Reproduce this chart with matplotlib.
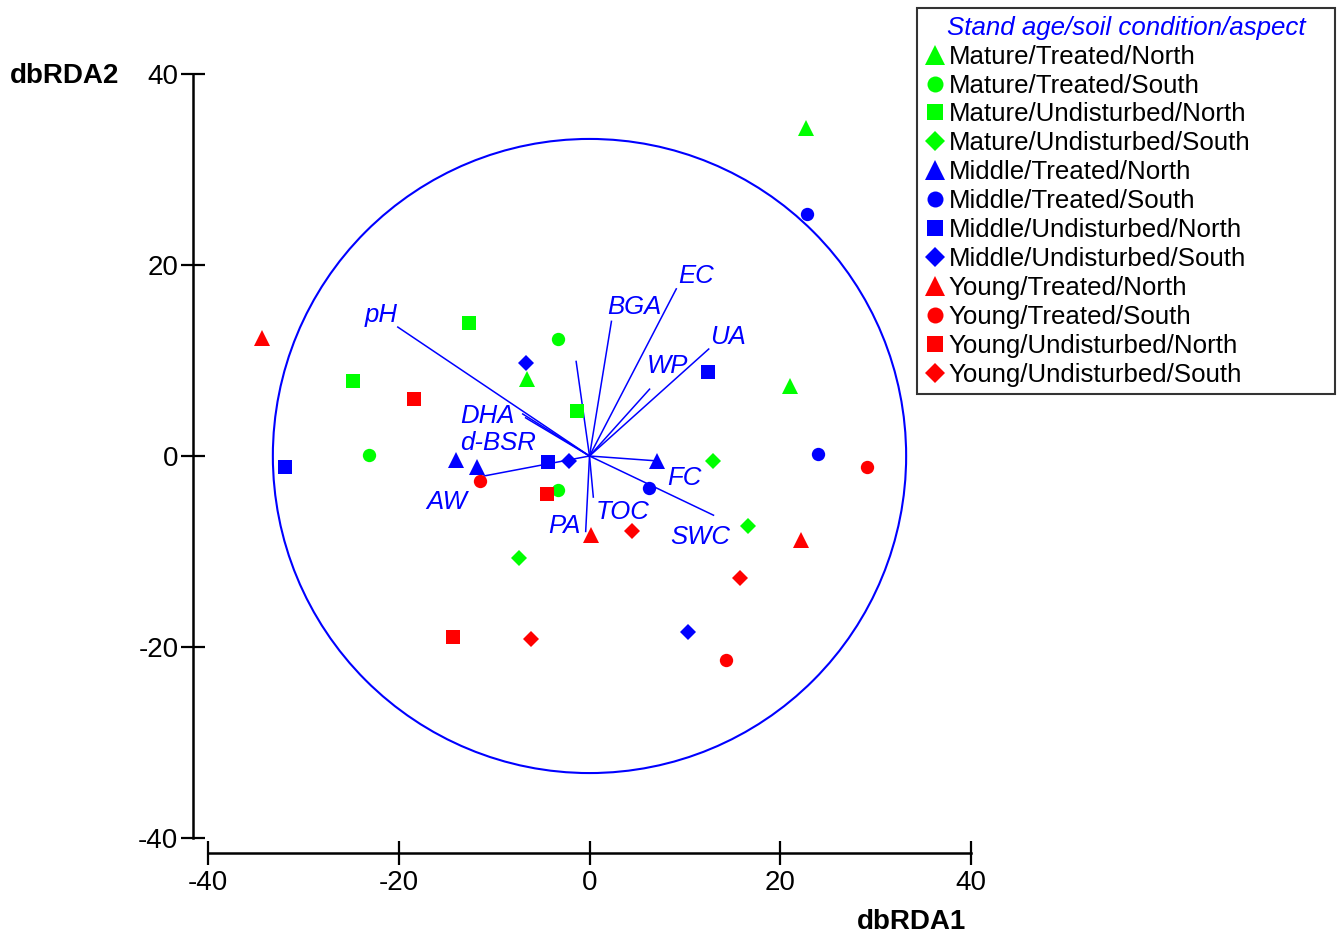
import matplotlib.pyplot as plt
from matplotlib.lines import Line2D
from matplotlib.patches import Circle

plt.rcParams['font.family'] = ['Liberation Sans', 'DejaVu Sans']
plt.rcParams['axes.unicode_minus'] = False

# Classes de idade e condicao/aspecto (3 amostras cada)
idades = ['Mature', 'Middle', 'Young']
condicoes = ['Treated/North', 'Treated/South', 'Undisturbed/North', 'Undisturbed/South']

# Scores (dbRDA1, dbRDA2), 3 valores por condicao, na ordem acima
mature_x = [22.7, 21.0, -6.6,   -3.3, -23.1, -3.3,   -12.6, -24.8, -1.3,   13.0, 16.6, -7.4]
mature_y = [34.3, 7.3, 8.1,     12.3, 0.1, -3.6,     13.9, 7.9, 4.7,       -0.5, -7.3, -10.7]
middle_x = [-14.0, -11.8, 7.1,  22.8, 24.0, 6.2,     -31.9, 12.4, -4.4,    -6.7, -2.2, 10.3]
middle_y = [-0.4, -1.1, -0.5,   25.3, 0.2, -3.3,     -1.1, 8.8, -0.6,      9.7, -0.5, -18.4]
young_x = [-34.3, 0.2, 22.2,    -11.5, 29.1, 14.3,   -18.4, -4.5, -14.3,   4.5, 15.8, -6.1]
young_y = [12.4, -8.3, -8.8,    -2.6, -1.2, -21.4,   6.0, -4.0, -19.0,     -7.9, -12.8, -19.2]

# Vetores das variaveis ambientais
variaveis = ['pH', 'BGA', 'EC', 'UA', 'WP', '', 'DHA', 'd-BSR', 'AW', 'FC', 'SWC', 'TOC', 'PA']
vet_x = [-20.1, 2.3, 9.1, 12.5, 6.3, -1.4, -7.0, -6.7, -11.1, 6.9, 13.0, 0.4, -0.4]
vet_y = [13.5, 14.1, 17.5, 11.2, 7.0, 9.9, 4.4, 4.0, -2.1, -0.5, -6.2, -4.3, -7.9]

raio_circulo = 33.2

cores = {'Mature': '#00ff00', 'Middle': '#0000ff', 'Young': '#ff0000'}
marcadores = {'Treated/North': ('^', 11.5), 'Treated/South': ('o', 9.6),
              'Undisturbed/North': ('s', 10), 'Undisturbed/South': ('D', 8.2)}

# posicao dos rotulos dos vetores (coordenadas dos dados)
pos_rotulos = {'pH': (-21.8, 14.8), 'BGA': (4.7, 15.6), 'EC': (11.2, 18.8), 'UA': (14.5, 12.5),
               'WP': (8.2, 9.4), 'DHA': (-10.7, 4.2), 'd-BSR': (-9.6, 1.4), 'AW': (-15.0, -4.8),
               'FC': (10.0, -2.3), 'TOC': (3.5, -5.9), 'PA': (-2.6, -7.3), 'SWC': (11.6, -8.5)}

fig = plt.figure(figsize=(13.44, 9.38), dpi=100)
ax = fig.add_axes([208 / 1344, 100 / 938, 763 / 1344, 764 / 938])

# circulo e vetores
ax.add_patch(Circle((0, 0), raio_circulo, fill=False, ec='#0000ff', lw=1.5, zorder=1))
for nome, vx, vy in zip(variaveis, vet_x, vet_y):
  ax.plot([0, vx], [0, vy], color='#0000ff', lw=1.1, zorder=2)
  if nome:
    tx, ty = pos_rotulos[nome]
    ax.text(tx, ty, nome, color='#0000ff', style='italic', fontsize=18.5,
            ha='center', va='center', zorder=3)

# pontos das amostras
dados = {'Mature': (mature_x, mature_y), 'Middle': (middle_x, middle_y), 'Young': (young_x, young_y)}
handles = []
for idade in idades:
  xs, ys = dados[idade]
  for k, cond in enumerate(condicoes):
    m, ms = marcadores[cond]
    ax.plot(xs[3 * k:3 * k + 3], ys[3 * k:3 * k + 3], linestyle='none', marker=m, ms=ms,
            color=cores[idade], mew=0, zorder=4)
    handles.append(Line2D([], [], linestyle='none', marker=m, ms=ms * 1.2, color=cores[idade],
                          mew=0, label=idade + '/' + cond))

ax.set_xlim(-40, 40)
ax.set_ylim(-40, 40)
ax.set_xticks([-40, -20, 0, 20, 40])
ax.set_yticks([-40, -20, 0, 20, 40])
ax.spines['top'].set_visible(False)
ax.spines['right'].set_visible(False)
ax.spines['left'].set_position(('outward', 10.8))
ax.spines['bottom'].set_position(('outward', 10.8))
ax.spines['left'].set_linewidth(1.8)
ax.spines['bottom'].set_linewidth(1.8)
ax.tick_params(direction='inout', length=17, width=1.6, labelsize=20, pad=2)
ax.tick_params(axis='x', pad=4)

fig.text(10 / 1344, 1 - 76 / 938, 'dbRDA2', fontsize=20, fontweight='bold', ha='left', va='center')
fig.text(966 / 1344, 1 - 922 / 938, 'dbRDA1', fontsize=20, fontweight='bold', ha='right', va='center')

leg = fig.legend(handles=handles, loc='upper left',
                 bbox_to_anchor=(917 / 1344, 1 - 8 / 938, 418 / 1344, 0.0), mode='expand',
                 title='Stand age/soil condition/aspect', fontsize=18.6, title_fontsize=18.6,
                 frameon=True, fancybox=False, edgecolor='black', handlelength=0.8,
                 handletextpad=0.12, labelspacing=0.19, borderpad=0.3, borderaxespad=0)
leg.get_frame().set_linewidth(1.5)
leg.get_title().set_color('#0000ff')
leg.get_title().set_style('italic')

fig.savefig('out.png', dpi=100)
